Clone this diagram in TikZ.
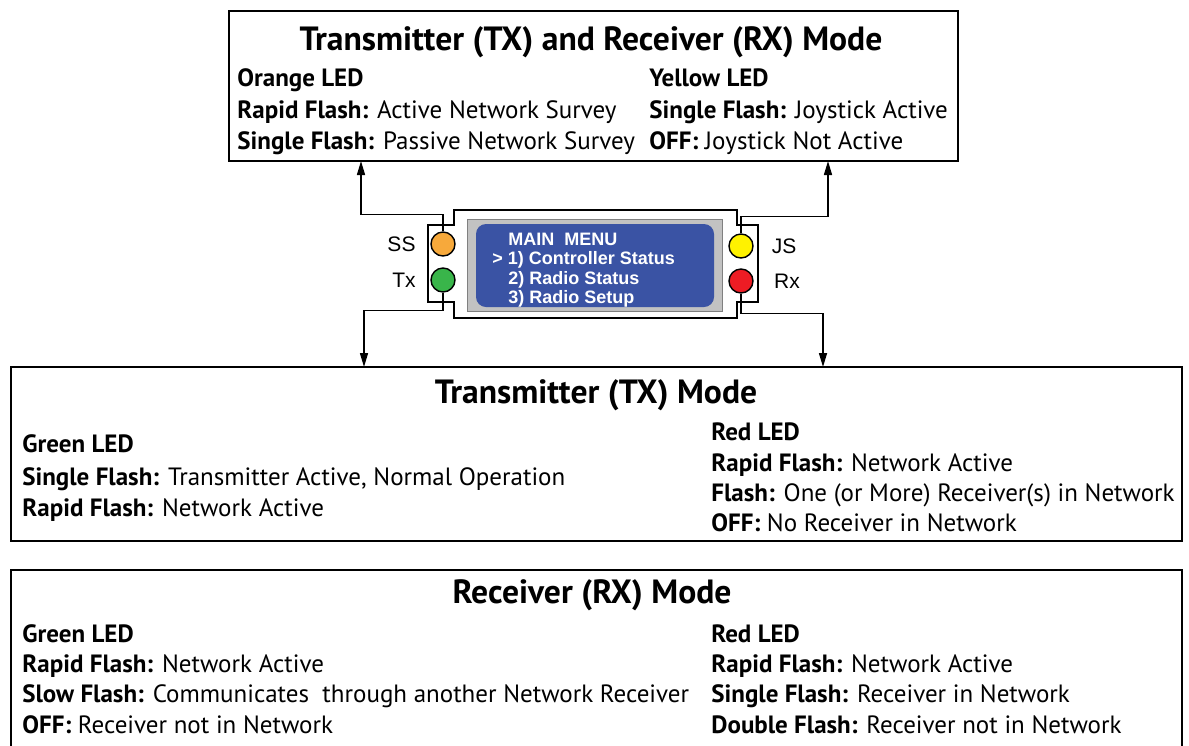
\documentclass[tikz,border=0pt]{standalone}
\usepackage{fontspec}
\setmainfont{PT Sans}
\newfontfamily\lcdfont{Liberation Sans}
\usetikzlibrary{arrows.meta}

\definecolor{ledorange}{HTML}{F7A93B}
\definecolor{ledgreen}{HTML}{39B54A}
\definecolor{ledyellow}{HTML}{FFF200}
\definecolor{ledred}{HTML}{ED1C24}
\definecolor{lcdblue}{HTML}{3A53A4}
\definecolor{lcdgray}{HTML}{C2C2C2}

\begin{document}
\begin{tikzpicture}[x=0.5pt,y=-0.5pt]
        \tikzset{modebox/.style={draw, line width=1pt, inner sep=0pt},
                 heading/.style={font=\fontsize{16.8}{18}\selectfont\bfseries, anchor=base, inner sep=0pt},
                 entry/.style={font=\fontsize{12.5}{14}\selectfont, anchor=base west, inner sep=0pt},
                 lamp/.style={draw, circle, line width=0.7pt, minimum size=12pt, inner sep=0pt},
                 tag/.style={font=\lcdfont\fontsize{10.5}{12}\selectfont, inner sep=0pt},
                 screen/.style={font=\lcdfont\bfseries\fontsize{9}{10}\selectfont, text=white, anchor=base west, inner sep=0pt},
                 wire/.style={line width=0.75pt},
                 arr/.style={wire, -{Triangle[length=7pt, width=4pt]}}}
        \useasboundingbox (0,0) rectangle (1189,745);
        \clip (0,0) rectangle (1189,745);

        % mode boxes
        \node [modebox, minimum width=364.5pt, minimum height=75pt]   (both) at (593.5,86)  {};
        \node [modebox, minimum width=585.5pt, minimum height=87pt]   (tx)   at (596.5,454) {};
        \node [modebox, minimum width=585.5pt, minimum height=100pt]  (rx)   at (596.5,670) {};

        % controller front panel
        \draw [line width=0.75pt] (454,210) -- (737,210) -- (737,225) -- (758,225) -- (758,302) -- (737,302)
              -- (737,318) -- (454,318) -- (454,302) -- (428,302) -- (428,225) -- (454,225) -- cycle;
        \node [draw=gray, fill=lcdgray, line width=0.4pt, minimum width=127.5pt, minimum height=46pt] (lcd) at (594.5,265) {};
        \node [fill=lcdblue, rounded corners=5pt, minimum width=119pt, minimum height=41.5pt] (menu) at (595,265.5) {};
        \node [screen] (m0) at (508,245) {MAIN\ \ MENU};
        \node [screen] (m1) at (492,264) {> 1) Controller Status};
        \node [screen] (m2) at (508,284) {2) Radio Status};
        \node [screen] (m3) at (508,303) {3) Radio Setup};

        \node [lamp, fill=ledorange] (ss) at (443,244) {};
        \node [lamp, fill=ledgreen]  (txl) at (443,280) {};
        \node [lamp, fill=ledyellow] (js) at (741,246) {};
        \node [lamp, fill=ledred]    (rxl) at (741,281) {};
        \node [tag] (sslabel) at (401.5,244) {SS};
        \node [tag] (txlabel) at (404,280) {Tx};
        \node [tag] (jslabel) at (784,246) {JS};
        \node [tag] (rxlabel) at (787,281) {Rx};

        % connectors
        \coordinate (ssend) at (361,161);
        \coordinate (jsend) at (828,161);
        \coordinate (txend) at (364,367);
        \coordinate (rxend) at (823,367);
        \draw [arr] (ss.north)  -- ++(0,-17) -| (ssend);
        \draw [arr] (js.north)  -- ++(0,-17) -| (jsend);
        \draw [arr] (txl.south) -- ++(0,18)  -| (txend);
        \draw [arr] (rxl.south) -- ++(0,20)  -| (rxend);

        % Transmitter (TX) and Receiver (RX) Mode
        \node [heading] (bothtitle) at (591,50) {Transmitter (TX) and Receiver (RX) Mode};
        \node [entry] (orange) at (237,86)  {\textbf{Orange LED}};
        \node [entry] (ss1)    at (237,118) {\textbf{Rapid Flash:} Active Network Survey};
        \node [entry] (ss2)    at (237,149) {\textbf{Single Flash:} Passive Network Survey};
        \node [entry] (yellow) at (649,86)  {\textbf{Yellow LED}};
        \node [entry] (js1)    at (649,118) {\textbf{Single Flash:} Joystick Active};
        \node [entry] (js2)    at (649,149) {\textbf{OFF:} Joystick Not Active};

        % Transmitter (TX) Mode
        \node [heading] (txtitle) at (596,403) {Transmitter (TX) Mode};
        \node [entry] (txgreen) at (22,452)  {\textbf{Green LED}};
        \node [entry] (tx1)     at (22,485)  {\textbf{Single Flash:} Transmitter Active, Normal Operation};
        \node [entry] (tx2)     at (22,516)  {\textbf{Rapid Flash:} Network Active};
        \node [entry] (txred)   at (711,440) {\textbf{Red LED}};
        \node [entry] (tx3)     at (711,471) {\textbf{Rapid Flash:} Network Active};
        \node [entry] (tx4)     at (711,501) {\textbf{Flash:} One (or More) Receiver(s) in Network};
        \node [entry] (tx5)     at (711,531) {\textbf{OFF:} No Receiver in Network};

        % Receiver (RX) Mode
        \node [heading] (rxtitle) at (592,603) {Receiver (RX) Mode};
        \node [entry] (rxgreen) at (22,642)  {\textbf{Green LED}};
        \node [entry] (rx1)     at (22,672)  {\textbf{Rapid Flash:} Network Active};
        \node [entry] (rx2)     at (22,702)  {\textbf{Slow Flash:} Communicates\ \ through another Network Receiver};
        \node [entry] (rx3)     at (22,733)  {\textbf{OFF:} Receiver not in Network};
        \node [entry] (rxred)   at (711,642) {\textbf{Red LED}};
        \node [entry] (rx4)     at (711,672) {\textbf{Rapid Flash:} Network Active};
        \node [entry] (rx5)     at (711,702) {\textbf{Single Flash:} Receiver in Network};
        \node [entry] (rx6)     at (711,733) {\textbf{Double Flash:} Receiver not in Network};
\end{tikzpicture}
\end{document}
